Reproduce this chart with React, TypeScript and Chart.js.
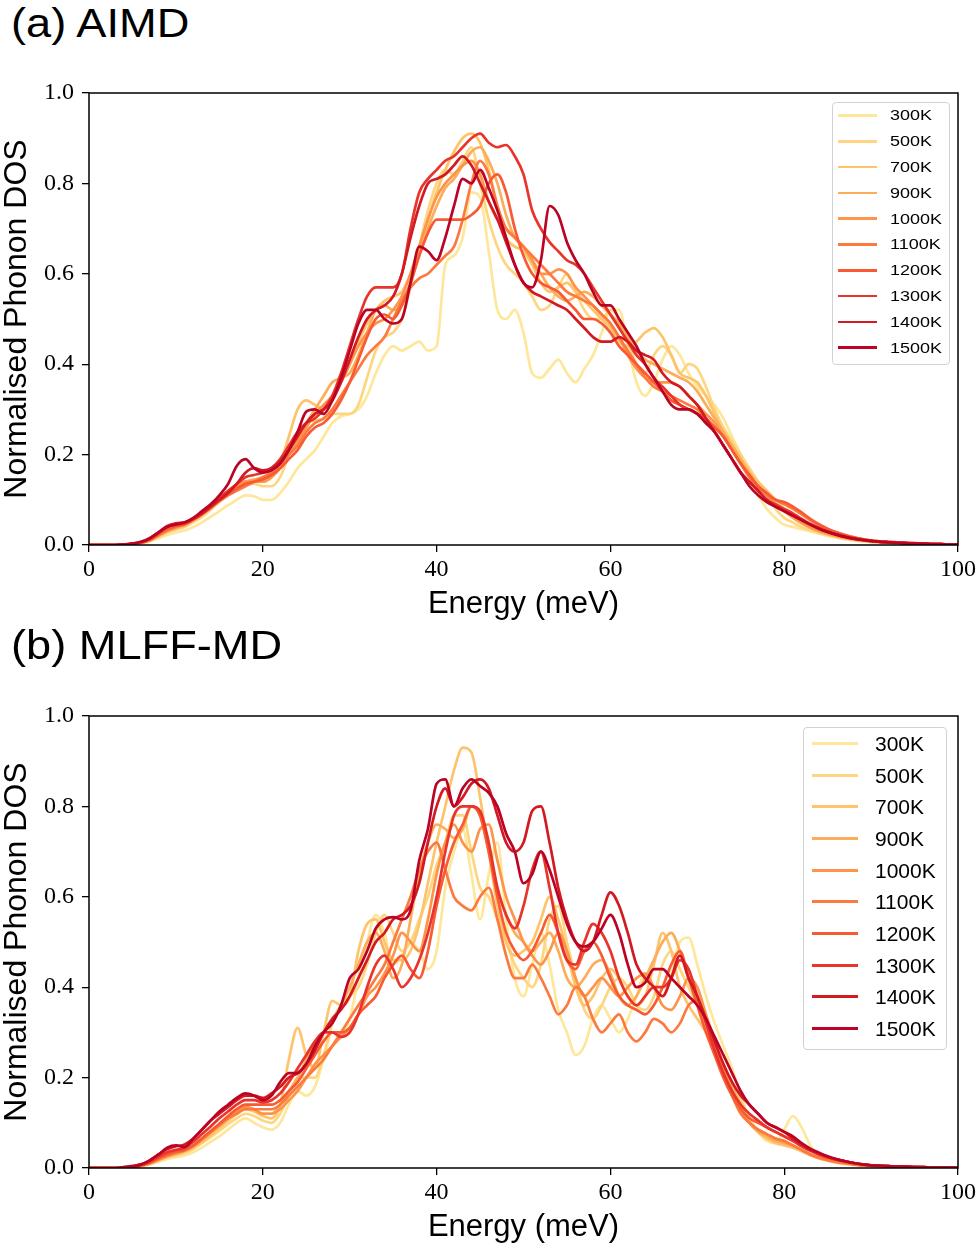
import React, { useEffect, useRef } from "react";
import { Chart, registerables } from "chart.js";

Chart.register(...registerables);

// ---------- data ----------
const ENERGY = [
  0, 1, 2, 3, 4, 5, 6, 7, 8, 9,
  10, 11, 12, 13, 14, 15, 16, 17, 18, 19,
  20, 21, 22, 23, 24, 25, 26, 27, 28, 29,
  30, 31, 32, 33, 34, 35, 36, 37, 38, 39,
  40, 41, 42, 43, 44, 45, 46, 47, 48, 49,
  50, 51, 52, 53, 54, 55, 56, 57, 58, 59,
  60, 61, 62, 63, 64, 65, 66, 67, 68, 69,
  70, 71, 72, 73, 74, 75, 76, 77, 78, 79,
  80, 81, 82, 83, 84, 85, 86, 87, 88, 89,
  90, 91, 92, 93, 94, 95, 96, 97, 98, 99, 100,
];

const TEMPS = ["300K", "500K", "700K", "900K", "1000K", "1100K", "1200K", "1300K", "1400K", "1500K"];

const COLORS = [
  "#fee79a", "#fed681", "#fec46c", "#fdac59", "#fd9449",
  "#fc7a3f", "#f85a33", "#e8342a", "#d31a22", "#bb0326",
];

const X_TICKS = [0, 20, 40, 60, 80, 100];
const Y_TICKS = [0, 0.2, 0.4, 0.6, 0.8, 1.0];

// (a) AIMD
const AIMD_300K = [
  0, 0, 0, 0, 0.001, 0.002, 0.004, 0.008, 0.015, 0.022,
  0.028, 0.032, 0.04, 0.05, 0.062, 0.075, 0.088, 0.1, 0.11, 0.108,
  0.1, 0.1, 0.115, 0.14, 0.17, 0.19, 0.21, 0.24, 0.27, 0.285,
  0.29, 0.3, 0.33, 0.38, 0.42, 0.44, 0.43, 0.44, 0.45, 0.43,
  0.44, 0.62, 0.64, 0.68, 0.78, 0.77, 0.65, 0.52, 0.5, 0.52,
  0.47, 0.38, 0.37, 0.39, 0.41, 0.38, 0.36, 0.39, 0.42, 0.47,
  0.52, 0.52, 0.44, 0.36, 0.33, 0.36, 0.41, 0.44, 0.42, 0.38,
  0.35, 0.33, 0.31, 0.28, 0.24, 0.2, 0.15, 0.11, 0.08, 0.06,
  0.045, 0.04, 0.035, 0.03, 0.025, 0.02, 0.016, 0.013, 0.01, 0.008,
  0.006, 0.005, 0.004, 0.003, 0.003, 0.002, 0.002, 0.001, 0.001, 0.001, 0.001,
];
const AIMD_500K = [
  0, 0, 0, 0, 0.001, 0.002, 0.005, 0.01, 0.018, 0.028,
  0.035, 0.04, 0.05, 0.062, 0.078, 0.095, 0.11, 0.125, 0.135, 0.135,
  0.13, 0.13, 0.15, 0.2, 0.25, 0.27, 0.275, 0.28, 0.29, 0.29,
  0.29, 0.31, 0.37, 0.43, 0.46, 0.47, 0.5, 0.57, 0.66, 0.74,
  0.8, 0.83, 0.82, 0.85, 0.88, 0.8, 0.72, 0.66, 0.62, 0.6,
  0.58, 0.55, 0.52, 0.53, 0.57, 0.6, 0.56, 0.52, 0.5, 0.5,
  0.52, 0.5, 0.45, 0.4, 0.38, 0.42, 0.44, 0.42, 0.38, 0.4,
  0.39, 0.35, 0.3, 0.26, 0.23, 0.2, 0.17, 0.14, 0.11, 0.08,
  0.06, 0.05, 0.04, 0.033, 0.027, 0.022, 0.018, 0.014, 0.011, 0.009,
  0.007, 0.006, 0.005, 0.004, 0.003, 0.003, 0.002, 0.002, 0.001, 0.001, 0.001,
];
const AIMD_700K = [
  0, 0, 0, 0, 0.001, 0.002, 0.005, 0.01, 0.02, 0.03,
  0.035, 0.042, 0.055, 0.07, 0.085, 0.1, 0.115, 0.13, 0.14, 0.14,
  0.14, 0.15, 0.18, 0.24, 0.3, 0.32, 0.31, 0.3, 0.32, 0.36,
  0.4, 0.45, 0.49, 0.52, 0.54, 0.55, 0.56, 0.6, 0.66, 0.72,
  0.78, 0.83, 0.87, 0.9, 0.91, 0.89, 0.83, 0.75, 0.68, 0.66,
  0.65, 0.62, 0.58, 0.56, 0.57, 0.58, 0.56, 0.54, 0.52, 0.5,
  0.48, 0.45, 0.44, 0.45, 0.47, 0.48, 0.46, 0.42, 0.38, 0.37,
  0.36, 0.33, 0.29, 0.25, 0.22, 0.19, 0.16, 0.14, 0.12, 0.1,
  0.08, 0.065, 0.05, 0.04, 0.032, 0.026, 0.02, 0.016, 0.012, 0.01,
  0.008, 0.006, 0.005, 0.004, 0.003, 0.003, 0.002, 0.002, 0.001, 0.001, 0.001,
];
const AIMD_900K = [
  0, 0, 0, 0, 0.001, 0.002, 0.005, 0.01, 0.02, 0.03,
  0.038, 0.045, 0.055, 0.068, 0.082, 0.098, 0.113, 0.128, 0.14, 0.145,
  0.15, 0.16, 0.18, 0.21, 0.24, 0.27, 0.3, 0.33, 0.36, 0.37,
  0.38, 0.42, 0.47, 0.52, 0.53, 0.52, 0.53, 0.58, 0.64, 0.7,
  0.75, 0.79, 0.81, 0.84, 0.87, 0.88, 0.85, 0.8, 0.73, 0.68,
  0.66, 0.63, 0.6, 0.57, 0.55, 0.54, 0.55, 0.56, 0.55, 0.53,
  0.51, 0.49, 0.46, 0.43, 0.41, 0.4, 0.39, 0.38, 0.37, 0.36,
  0.34, 0.31, 0.28, 0.25, 0.22, 0.19, 0.16, 0.13, 0.11, 0.09,
  0.075, 0.06, 0.048, 0.038, 0.03, 0.024, 0.019, 0.015, 0.012, 0.01,
  0.008, 0.006, 0.005, 0.004, 0.003, 0.003, 0.002, 0.002, 0.001, 0.001, 0.001,
];
const AIMD_1000K = [
  0, 0, 0, 0, 0.001, 0.002, 0.005, 0.011, 0.022, 0.032,
  0.04, 0.045, 0.055, 0.068, 0.082, 0.1, 0.115, 0.13, 0.14, 0.14,
  0.14, 0.15, 0.17, 0.2, 0.23, 0.26, 0.29, 0.31, 0.33, 0.36,
  0.4, 0.44, 0.47, 0.49, 0.5, 0.52, 0.55, 0.6, 0.66, 0.72,
  0.77, 0.8, 0.82, 0.84, 0.85, 0.82, 0.76, 0.72, 0.7, 0.68,
  0.66, 0.63, 0.6, 0.6, 0.61, 0.6, 0.57, 0.55, 0.53, 0.51,
  0.49, 0.46, 0.42, 0.39, 0.37, 0.36, 0.36, 0.36, 0.35, 0.33,
  0.31, 0.29, 0.27, 0.24, 0.21, 0.18, 0.15, 0.13, 0.11, 0.09,
  0.075, 0.062, 0.05, 0.04, 0.032, 0.026, 0.021, 0.016, 0.013, 0.01,
  0.008, 0.007, 0.006, 0.005, 0.004, 0.003, 0.003, 0.002, 0.002, 0.001, 0.001,
];
const AIMD_1100K = [
  0, 0, 0, 0, 0.001, 0.002, 0.005, 0.011, 0.022, 0.033,
  0.04, 0.047, 0.058, 0.07, 0.083, 0.097, 0.11, 0.12, 0.13, 0.14,
  0.15, 0.16, 0.18, 0.2, 0.22, 0.25, 0.27, 0.28, 0.3, 0.33,
  0.36, 0.39, 0.42, 0.44, 0.46, 0.5, 0.54, 0.57, 0.59, 0.6,
  0.62, 0.64, 0.66, 0.72, 0.8, 0.85, 0.82, 0.75, 0.7, 0.68,
  0.66, 0.64, 0.62, 0.6, 0.58, 0.56, 0.55, 0.54, 0.53, 0.51,
  0.49, 0.46, 0.43, 0.4, 0.37, 0.35, 0.34, 0.33, 0.32, 0.31,
  0.3, 0.28, 0.26, 0.24, 0.21, 0.18, 0.15, 0.13, 0.11, 0.1,
  0.09, 0.08, 0.068, 0.055, 0.044, 0.035, 0.028, 0.022, 0.017, 0.013,
  0.01, 0.008, 0.007, 0.006, 0.005, 0.004, 0.003, 0.002, 0.002, 0.001, 0.001,
];
const AIMD_1200K = [
  0, 0, 0, 0, 0.001, 0.002, 0.005, 0.012, 0.024, 0.036,
  0.042, 0.046, 0.056, 0.068, 0.082, 0.098, 0.112, 0.125, 0.135, 0.14,
  0.145, 0.155, 0.17, 0.19, 0.21, 0.24, 0.26, 0.27, 0.29, 0.32,
  0.36, 0.41, 0.46, 0.5, 0.51, 0.5, 0.53, 0.58, 0.64, 0.69,
  0.72, 0.72, 0.72, 0.72, 0.73, 0.75, 0.8, 0.82, 0.78, 0.7,
  0.64, 0.6, 0.58, 0.57, 0.56, 0.54, 0.52, 0.5, 0.5, 0.49,
  0.47, 0.44, 0.42, 0.4, 0.38, 0.36, 0.34, 0.32, 0.31, 0.3,
  0.29, 0.28, 0.26, 0.24, 0.21, 0.18, 0.155, 0.13, 0.115, 0.1,
  0.095, 0.085, 0.072, 0.058, 0.046, 0.036, 0.028, 0.022, 0.017, 0.013,
  0.01, 0.008, 0.007, 0.006, 0.005, 0.004, 0.003, 0.002, 0.002, 0.001, 0.001,
];
const AIMD_1300K = [
  0, 0, 0, 0, 0.001, 0.003, 0.006, 0.013, 0.026, 0.04,
  0.046, 0.048, 0.058, 0.072, 0.088, 0.105, 0.12, 0.135, 0.15, 0.155,
  0.16, 0.17, 0.19, 0.22, 0.25, 0.27, 0.28, 0.3, 0.33, 0.38,
  0.44, 0.5, 0.55, 0.57, 0.57, 0.57, 0.6, 0.7, 0.78, 0.81,
  0.83, 0.85, 0.86, 0.88, 0.9, 0.91, 0.89, 0.88, 0.885, 0.86,
  0.82, 0.74, 0.7, 0.67, 0.65, 0.63, 0.62, 0.6, 0.57, 0.54,
  0.51, 0.48, 0.45, 0.42, 0.4, 0.37, 0.35, 0.33, 0.31, 0.3,
  0.29, 0.27, 0.25, 0.22, 0.19, 0.16, 0.14, 0.12, 0.1, 0.09,
  0.08, 0.07, 0.058, 0.047, 0.038, 0.03, 0.024, 0.019, 0.015, 0.012,
  0.009, 0.008, 0.006, 0.005, 0.004, 0.003, 0.003, 0.002, 0.002, 0.001, 0.001,
];
const AIMD_1400K = [
  0, 0, 0, 0, 0.001, 0.003, 0.007, 0.015, 0.028, 0.042,
  0.048, 0.05, 0.058, 0.07, 0.085, 0.1, 0.115, 0.135, 0.16, 0.17,
  0.165, 0.17, 0.185, 0.21, 0.24, 0.27, 0.29, 0.3, 0.32, 0.36,
  0.41, 0.46, 0.5, 0.52, 0.53, 0.55, 0.6, 0.68, 0.75, 0.8,
  0.81, 0.82, 0.84, 0.86, 0.84, 0.8, 0.76, 0.72, 0.67, 0.62,
  0.58, 0.56, 0.55, 0.54, 0.53, 0.52, 0.5, 0.48, 0.46, 0.45,
  0.45, 0.46, 0.45, 0.43, 0.42, 0.41, 0.38, 0.36, 0.35, 0.33,
  0.31, 0.28, 0.25, 0.22, 0.19, 0.16, 0.14, 0.12, 0.1, 0.085,
  0.075, 0.065, 0.055, 0.045, 0.036, 0.029, 0.023, 0.018, 0.014, 0.011,
  0.009, 0.007, 0.006, 0.005, 0.004, 0.003, 0.003, 0.002, 0.002, 0.001, 0.001,
];
const AIMD_1500K = [
  0, 0, 0, 0, 0.001, 0.003, 0.007, 0.015, 0.028, 0.04,
  0.045, 0.05, 0.06, 0.075, 0.09, 0.11, 0.135, 0.175, 0.19, 0.17,
  0.16, 0.165, 0.18, 0.21, 0.25, 0.295, 0.3, 0.29, 0.32, 0.37,
  0.43, 0.49, 0.52, 0.52, 0.5, 0.49, 0.5, 0.58, 0.66, 0.65,
  0.63, 0.68, 0.75, 0.81, 0.8, 0.83, 0.79, 0.74, 0.68, 0.62,
  0.58, 0.57, 0.63, 0.75, 0.73, 0.67, 0.63, 0.6, 0.56, 0.53,
  0.53, 0.5, 0.47, 0.44, 0.4, 0.37, 0.34, 0.31, 0.3, 0.3,
  0.29, 0.27, 0.25, 0.22, 0.19, 0.16, 0.13, 0.11, 0.095, 0.085,
  0.075, 0.065, 0.055, 0.045, 0.036, 0.029, 0.023, 0.018, 0.014, 0.011,
  0.009, 0.007, 0.006, 0.005, 0.004, 0.003, 0.003, 0.002, 0.002, 0.001, 0.001,
];

// (b) MLFF-MD
const MLFF_300K = [
  0, 0, 0, 0, 0.001, 0.002, 0.004, 0.008, 0.014, 0.02,
  0.024, 0.028, 0.035, 0.045, 0.058, 0.07, 0.085, 0.1, 0.11, 0.1,
  0.09, 0.085, 0.1, 0.14, 0.17, 0.16, 0.18, 0.24, 0.3, 0.3,
  0.33, 0.42, 0.5, 0.56, 0.52, 0.45, 0.47, 0.5, 0.48, 0.44,
  0.48, 0.62, 0.7, 0.75, 0.65, 0.55, 0.65, 0.72, 0.55, 0.42,
  0.38, 0.45, 0.52, 0.45, 0.35, 0.3, 0.25, 0.27, 0.33, 0.36,
  0.33, 0.3, 0.33, 0.38, 0.43, 0.4, 0.38, 0.43, 0.5, 0.51,
  0.45, 0.38, 0.32, 0.27, 0.22, 0.16, 0.11, 0.08, 0.06, 0.055,
  0.085, 0.115, 0.09, 0.05, 0.03, 0.022, 0.016, 0.012, 0.009, 0.007,
  0.005, 0.004, 0.003, 0.003, 0.002, 0.002, 0.001, 0.001, 0.001, 0.001, 0.001,
];
const MLFF_500K = [
  0, 0, 0, 0, 0.001, 0.002, 0.005, 0.009, 0.016, 0.023,
  0.028, 0.033, 0.042, 0.055, 0.068, 0.082, 0.097, 0.11, 0.12, 0.115,
  0.105, 0.1, 0.12, 0.16, 0.2, 0.2, 0.2, 0.25, 0.32, 0.36,
  0.38, 0.4, 0.45, 0.52, 0.56, 0.52, 0.48, 0.5, 0.55, 0.6,
  0.67, 0.72, 0.78, 0.78, 0.7, 0.62, 0.6, 0.55, 0.5, 0.45,
  0.42, 0.4, 0.45, 0.55, 0.58, 0.5, 0.42, 0.35, 0.33, 0.36,
  0.4, 0.42, 0.4, 0.36, 0.35, 0.38, 0.45, 0.48, 0.44, 0.4,
  0.36, 0.32, 0.27, 0.23, 0.19, 0.15, 0.11, 0.08, 0.065, 0.06,
  0.055, 0.05, 0.04, 0.03, 0.022, 0.017, 0.013, 0.01, 0.008, 0.006,
  0.005, 0.004, 0.003, 0.003, 0.002, 0.002, 0.001, 0.001, 0.001, 0.001, 0.001,
];
const MLFF_700K = [
  0, 0, 0, 0, 0.001, 0.002, 0.005, 0.01, 0.018, 0.025,
  0.03, 0.036, 0.045, 0.058, 0.072, 0.088, 0.105, 0.12, 0.13, 0.125,
  0.115, 0.11, 0.14, 0.24, 0.31, 0.25, 0.22, 0.3, 0.37, 0.36,
  0.38, 0.48, 0.54, 0.55, 0.5, 0.46, 0.46, 0.48, 0.54, 0.63,
  0.72, 0.8, 0.88, 0.93, 0.92, 0.82, 0.7, 0.58, 0.5, 0.47,
  0.48, 0.5, 0.55, 0.6, 0.55, 0.48, 0.4, 0.36, 0.38, 0.42,
  0.44, 0.42, 0.38, 0.36, 0.38, 0.45, 0.52, 0.48, 0.4, 0.36,
  0.33, 0.3, 0.26, 0.21, 0.17, 0.13, 0.1, 0.08, 0.065, 0.055,
  0.05, 0.045, 0.037, 0.028, 0.021, 0.016, 0.012, 0.009, 0.007, 0.005,
  0.004, 0.004, 0.003, 0.003, 0.002, 0.002, 0.001, 0.001, 0.001, 0.001, 0.001,
];
const MLFF_900K = [
  0, 0, 0, 0, 0.001, 0.002, 0.005, 0.01, 0.018, 0.026,
  0.032, 0.038, 0.048, 0.062, 0.078, 0.094, 0.11, 0.125, 0.135, 0.13,
  0.12, 0.12, 0.14, 0.17, 0.2, 0.24, 0.28, 0.3, 0.33, 0.36,
  0.4, 0.45, 0.5, 0.52, 0.48, 0.42, 0.45, 0.55, 0.65, 0.72,
  0.76, 0.75, 0.73, 0.75, 0.8, 0.78, 0.7, 0.62, 0.56, 0.52,
  0.5, 0.48, 0.5, 0.52, 0.48, 0.42, 0.4, 0.42, 0.45, 0.46,
  0.43, 0.38, 0.36, 0.38, 0.42, 0.46, 0.5, 0.52, 0.48, 0.42,
  0.38, 0.33, 0.28, 0.23, 0.18, 0.14, 0.1, 0.08, 0.07, 0.06,
  0.055, 0.048, 0.04, 0.03, 0.022, 0.017, 0.013, 0.01, 0.008, 0.006,
  0.005, 0.004, 0.003, 0.003, 0.002, 0.002, 0.001, 0.001, 0.001, 0.001, 0.001,
];
const MLFF_1000K = [
  0, 0, 0, 0, 0.001, 0.002, 0.005, 0.01, 0.018, 0.026,
  0.032, 0.038, 0.048, 0.062, 0.078, 0.094, 0.11, 0.125, 0.135, 0.13,
  0.12, 0.12, 0.13, 0.15, 0.17, 0.2, 0.23, 0.25, 0.27, 0.29,
  0.31, 0.34, 0.38, 0.4, 0.43, 0.47, 0.52, 0.5, 0.48, 0.55,
  0.65, 0.72, 0.76, 0.72, 0.7, 0.75, 0.76, 0.68, 0.6, 0.55,
  0.5, 0.47, 0.45, 0.48, 0.52, 0.48, 0.42, 0.38, 0.4, 0.42,
  0.4, 0.38, 0.4, 0.42, 0.43, 0.4, 0.36, 0.35, 0.38, 0.42,
  0.4, 0.34, 0.28, 0.22, 0.17, 0.13, 0.1, 0.085, 0.075, 0.065,
  0.058, 0.05, 0.04, 0.03, 0.023, 0.018, 0.014, 0.011, 0.008, 0.006,
  0.005, 0.004, 0.003, 0.003, 0.002, 0.002, 0.001, 0.001, 0.001, 0.001, 0.001,
];
const MLFF_1100K = [
  0, 0, 0, 0, 0.001, 0.002, 0.005, 0.011, 0.02, 0.028,
  0.035, 0.04, 0.05, 0.065, 0.08, 0.095, 0.11, 0.12, 0.13, 0.13,
  0.13, 0.13, 0.14, 0.16, 0.18, 0.2, 0.22, 0.24, 0.27, 0.3,
  0.33, 0.36, 0.39, 0.42, 0.45, 0.5, 0.55, 0.6, 0.66, 0.7,
  0.72, 0.66, 0.6, 0.58, 0.57, 0.6, 0.62, 0.55, 0.47, 0.42,
  0.42, 0.45, 0.42, 0.38, 0.34, 0.36, 0.4, 0.38, 0.33, 0.3,
  0.32, 0.34, 0.3, 0.28, 0.3, 0.33, 0.32, 0.3, 0.32, 0.36,
  0.37, 0.33, 0.27, 0.21, 0.16, 0.12, 0.1, 0.085, 0.075, 0.065,
  0.06, 0.05, 0.04, 0.03, 0.023, 0.018, 0.014, 0.011, 0.008, 0.006,
  0.005, 0.004, 0.003, 0.003, 0.002, 0.002, 0.001, 0.001, 0.001, 0.001, 0.001,
];
const MLFF_1200K = [
  0, 0, 0, 0, 0.001, 0.002, 0.006, 0.012, 0.022, 0.03,
  0.036, 0.04, 0.05, 0.066, 0.082, 0.098, 0.115, 0.13, 0.14, 0.14,
  0.14, 0.14, 0.15, 0.17, 0.19, 0.22, 0.25, 0.28, 0.3, 0.3,
  0.31, 0.34, 0.36, 0.38, 0.42, 0.45, 0.47, 0.44, 0.42, 0.48,
  0.58, 0.66, 0.72, 0.76, 0.8, 0.78, 0.7, 0.6, 0.52, 0.48,
  0.46, 0.48, 0.52, 0.56, 0.52, 0.46, 0.44, 0.48, 0.5, 0.47,
  0.42, 0.38, 0.36, 0.35, 0.34, 0.36, 0.4, 0.45, 0.48, 0.42,
  0.36, 0.3, 0.25, 0.2, 0.16, 0.13, 0.11, 0.1, 0.09, 0.08,
  0.07, 0.06, 0.05, 0.04, 0.03, 0.023, 0.018, 0.014, 0.011, 0.008,
  0.006, 0.005, 0.004, 0.003, 0.003, 0.002, 0.002, 0.001, 0.001, 0.001, 0.001,
];
const MLFF_1300K = [
  0, 0, 0, 0, 0.001, 0.003, 0.007, 0.014, 0.025, 0.035,
  0.04, 0.045, 0.058, 0.075, 0.092, 0.11, 0.125, 0.14, 0.15, 0.15,
  0.145, 0.15, 0.165, 0.19, 0.22, 0.25, 0.28, 0.3, 0.3, 0.29,
  0.3, 0.34, 0.4, 0.45, 0.47, 0.44, 0.4, 0.42, 0.46, 0.52,
  0.6, 0.7, 0.78, 0.8, 0.8, 0.79, 0.72, 0.62, 0.56, 0.53,
  0.58, 0.66, 0.7, 0.62, 0.52, 0.46, 0.45, 0.5, 0.54, 0.52,
  0.48, 0.42, 0.38, 0.36, 0.38, 0.4, 0.4, 0.42, 0.46, 0.44,
  0.38, 0.32, 0.26, 0.21, 0.17, 0.14, 0.12, 0.105, 0.09, 0.08,
  0.07, 0.06, 0.048, 0.038, 0.03, 0.024, 0.019, 0.015, 0.011, 0.008,
  0.006, 0.005, 0.004, 0.003, 0.003, 0.002, 0.002, 0.001, 0.001, 0.001, 0.001,
];
const MLFF_1400K = [
  0, 0, 0, 0, 0.002, 0.004, 0.008, 0.017, 0.03, 0.042,
  0.048, 0.052, 0.065, 0.085, 0.105, 0.12, 0.135, 0.15, 0.16, 0.16,
  0.155, 0.165, 0.18, 0.2, 0.21, 0.23, 0.26, 0.3, 0.33, 0.35,
  0.38, 0.42, 0.46, 0.5, 0.52, 0.55, 0.56, 0.58, 0.63, 0.72,
  0.8, 0.84, 0.8, 0.82, 0.85, 0.86, 0.84, 0.78, 0.72, 0.7,
  0.72, 0.79, 0.8, 0.72, 0.62, 0.55, 0.5, 0.48, 0.5, 0.56,
  0.61, 0.58, 0.52, 0.45, 0.42, 0.4, 0.38, 0.42, 0.47, 0.42,
  0.38, 0.33, 0.28, 0.23, 0.19, 0.16, 0.14, 0.12, 0.1, 0.09,
  0.08, 0.065, 0.052, 0.04, 0.032, 0.025, 0.019, 0.015, 0.011, 0.008,
  0.006, 0.005, 0.004, 0.003, 0.003, 0.002, 0.002, 0.001, 0.001, 0.001, 0.001,
];
const MLFF_1500K = [
  0, 0, 0, 0, 0.002, 0.004, 0.008, 0.017, 0.03, 0.045,
  0.05, 0.046, 0.065, 0.085, 0.105, 0.125, 0.14, 0.155, 0.165, 0.16,
  0.15, 0.16, 0.19, 0.21, 0.21, 0.23, 0.27, 0.3, 0.32, 0.36,
  0.42, 0.44, 0.48, 0.53, 0.55, 0.555, 0.55, 0.57, 0.68, 0.75,
  0.85, 0.86, 0.8, 0.84, 0.86, 0.845, 0.83, 0.8, 0.74, 0.7,
  0.63, 0.65, 0.7, 0.66, 0.6, 0.54, 0.5, 0.49, 0.5, 0.53,
  0.56, 0.52, 0.45, 0.4, 0.41, 0.44, 0.44, 0.42, 0.4, 0.38,
  0.36, 0.33, 0.29, 0.25, 0.21, 0.17, 0.14, 0.12, 0.1, 0.09,
  0.08, 0.07, 0.055, 0.043, 0.034, 0.026, 0.02, 0.015, 0.011, 0.008,
  0.006, 0.005, 0.004, 0.003, 0.003, 0.002, 0.002, 0.001, 0.001, 0.001, 0.001,
];

const AIMD_SERIES = [
  AIMD_300K, AIMD_500K, AIMD_700K, AIMD_900K, AIMD_1000K,
  AIMD_1100K, AIMD_1200K, AIMD_1300K, AIMD_1400K, AIMD_1500K,
];
const MLFF_SERIES = [
  MLFF_300K, MLFF_500K, MLFF_700K, MLFF_900K, MLFF_1000K,
  MLFF_1100K, MLFF_1200K, MLFF_1300K, MLFF_1400K, MLFF_1500K,
];

// ---------- chart ----------
const SANS = "'Liberation Sans', Arial, Helvetica, sans-serif";
const SERIF = "'Liberation Serif', 'Times New Roman', serif";

const framePlugin = {
  id: "frame",
  afterDatasetsDraw(chart: any) {
    const { ctx, chartArea } = chart;
    const { left, top, right, bottom } = chartArea;
    ctx.save();
    ctx.strokeStyle = "#000";
    ctx.lineWidth = 1.5;
    ctx.strokeRect(left, top, right - left, bottom - top);
    ctx.restore();
  },
};

function buildChart(canvas: HTMLCanvasElement, series: number[][]) {
  return new Chart(canvas, {
    type: "line",
    data: {
      datasets: series.map((s, i) => ({
        label: TEMPS[i],
        data: ENERGY.map((e, j) => ({ x: e, y: s[j] })),
        borderColor: COLORS[i],
        backgroundColor: COLORS[i],
        borderWidth: 2.7,
        pointRadius: 0,
        fill: false,
        cubicInterpolationMode: "monotone" as const,
        order: series.length - i,
      })),
    },
    options: {
      animation: false,
      responsive: false,
      events: [],
      layout: { padding: { top: 43, right: 22, left: 0, bottom: 0 } },
      plugins: {
        legend: { display: false },
        tooltip: { enabled: false },
      },
      scales: {
        x: {
          type: "linear",
          min: X_TICKS[0],
          max: X_TICKS[X_TICKS.length - 1],
          afterFit: (s: any) => {
            s.height = 80;
          },
          afterBuildTicks: (s: any) => {
            s.ticks = X_TICKS.map((v) => ({ value: v }));
          },
          ticks: {
            font: { family: SERIF, size: 24 },
            color: "#000",
            padding: 3,
            maxRotation: 0,
            callback: (v: any) => String(v),
          },
          grid: {
            drawOnChartArea: false,
            drawTicks: true,
            tickLength: 7,
            color: "#000",
            lineWidth: 1.3,
          },
          border: { display: false },
          title: {
            display: true,
            text: "Energy (meV)",
            font: { family: SANS, size: 31 },
            color: "#000",
            padding: { top: 0, bottom: 2 },
          },
        },
        y: {
          type: "linear",
          min: Y_TICKS[0],
          max: Y_TICKS[Y_TICKS.length - 1],
          afterFit: (s: any) => {
            s.width = 89;
          },
          afterBuildTicks: (s: any) => {
            s.ticks = Y_TICKS.map((v) => ({ value: v }));
          },
          ticks: {
            font: { family: SERIF, size: 24 },
            color: "#000",
            padding: 8,
            callback: (v: any) => Number(v).toFixed(1),
          },
          grid: {
            drawOnChartArea: false,
            drawTicks: true,
            tickLength: 7,
            color: "#000",
            lineWidth: 1.3,
          },
          border: { display: false },
          title: {
            display: true,
            text: "Normalised Phonon DOS",
            font: { family: SANS, size: 32, lineHeight: 1 },
            color: "#000",
            padding: { top: 1, bottom: 0 },
          },
        },
      },
    },
    plugins: [framePlugin],
  } as any);
}

type LegendCfg = {
  left: number;
  top: number;
  width: number;
  height: number;
  lineX: number;
  lineW: number;
  textX: number;
  firstY: number;
  step: number;
  fontSize: number;
  scaleX: number;
};

const LEGEND_A: LegendCfg = {
  left: 832, top: 102, width: 118, height: 263,
  lineX: 838, lineW: 39, textX: 890, firstY: 115.5, step: 25.8, fontSize: 15.5, scaleX: 1.16,
};
const LEGEND_B: LegendCfg = {
  left: 803, top: 727, width: 144, height: 323,
  lineX: 812, lineW: 46, textX: 875, firstY: 743.5, step: 31.67, fontSize: 21, scaleX: 1.0,
};

function Legend({ cfg }: { cfg: LegendCfg }) {
  return (
    <>
      <div
        style={{
          position: "absolute",
          left: cfg.left,
          top: cfg.top,
          width: cfg.width,
          height: cfg.height,
          boxSizing: "border-box",
          border: "1px solid #d2d2d2",
          borderRadius: 4,
          background: "rgba(255,255,255,0.85)",
        }}
      />
      {TEMPS.map((t, i) => {
        const cy = cfg.firstY + cfg.step * i;
        return (
          <React.Fragment key={t}>
            <div
              style={{
                position: "absolute",
                left: cfg.lineX,
                top: cy - 1.4,
                width: cfg.lineW,
                height: 2.8,
                background: COLORS[i],
              }}
            />
            <div
              style={{
                position: "absolute",
                left: cfg.textX,
                top: cy - cfg.fontSize * 0.589,
                fontFamily: SANS,
                fontSize: cfg.fontSize,
                lineHeight: `${cfg.fontSize * 1.2}px`,
                color: "#000",
                whiteSpace: "nowrap",
                transform: `scaleX(${cfg.scaleX})`,
                transformOrigin: "0 0",
              }}
            >
              {t}
            </div>
          </React.Fragment>
        );
      })}
    </>
  );
}

function Panel({ top, series }: { top: number; series: number[][] }) {
  const ref = useRef<HTMLCanvasElement | null>(null);
  useEffect(() => {
    if (!ref.current) return;
    const chart = buildChart(ref.current, series);
    return () => chart.destroy();
  }, [series]);
  return (
    <div style={{ position: "absolute", left: 0, top, width: 980, height: 575 }}>
      <canvas ref={ref} width={980} height={575} style={{ width: 980, height: 575, display: "block" }} />
    </div>
  );
}

function Title({ text, top }: { text: string; top: number }) {
  return (
    <div
      style={{
        position: "absolute",
        left: 11,
        top,
        fontFamily: SANS,
        fontSize: 40,
        lineHeight: "40px",
        color: "#000",
        whiteSpace: "nowrap",
        transform: "scaleX(1.13)",
        transformOrigin: "0 0",
      }}
    >
      {text}
    </div>
  );
}

export default function App() {
  useEffect(() => {
    document.body.style.margin = "0";
    document.body.style.background = "#fff";
  }, []);
  return (
    <div style={{ position: "relative", width: 980, height: 1248, background: "#fff", overflow: "hidden" }}>
      <Title text="(a) AIMD" top={3} />
      <Panel top={50} series={AIMD_SERIES} />
      <Legend cfg={LEGEND_A} />
      <Title text="(b) MLFF-MD" top={625} />
      <Panel top={673} series={MLFF_SERIES} />
      <Legend cfg={LEGEND_B} />
    </div>
  );
}
